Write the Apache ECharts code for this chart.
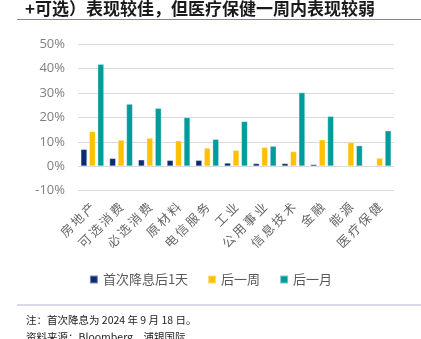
<!DOCTYPE html>
<html>
<head>
<meta charset="utf-8">
<style>
  html, body { margin: 0; padding: 0; background: #fff; }
  #chart { width: 421px; height: 339px; }
</style>
<script src="https://cdn.jsdelivr.net/npm/echarts@6/dist/echarts.min.js"></script>
</head>
<body>
<div id="chart"></div>
<script>
// Sector returns after the first rate cut (%)
const sectors = ['房地产', '可选消费', '必选消费', '原材料', '电信服务', '工业', '公用事业', '信息技术', '金融', '能源', '医疗保健'];
const day1 = [7.0, 3.3, 2.7, 2.5, 2.5, 1.4, 1.2, 1.2, 0.8, 0.3, -0.4];
const week1 = [14.3, 10.8, 11.6, 10.5, 7.5, 6.6, 7.8, 6.1, 10.9, 9.8, 3.4];
const month1 = [41.8, 25.5, 23.8, 20.0, 11.1, 18.4, 8.3, 30.2, 20.5, 8.5, 14.6];
const seriesNames = ['首次降息后1天', '后一周', '后一月'];
const yTicks = { min: -10, max: 50, interval: 10 };

const cjk = '"Noto Sans CJK SC", "Noto Sans", sans-serif';
const chart = echarts.init(document.getElementById('chart'), null, { renderer: 'canvas' });

const barStyle = (color) => ({
  type: 'bar',
  barWidth: 6.5,
  barGap: '30%',
  itemStyle: { color: color, borderColor: 'rgba(255,255,255,0.45)', borderWidth: 0.8 }
});

// Category names are drawn with a thin space between characters for looser tracking
const spaced = (s) => s.split('').join('\u2009');

chart.setOption({
  animation: false,
  textStyle: { fontFamily: cjk },
  graphic: [
    {
      type: 'text', left: 25, top: 0,
      style: { text: '+可选）表现较佳，但医疗保健一周内表现较弱', font: 'bold 17px ' + cjk, fill: '#1a1a1a' }
    },
    { type: 'line', shape: { x1: 17, y1: 19.5, x2: 421, y2: 19.5 }, style: { stroke: '#7f7fb3', lineWidth: 1 } },
    { type: 'line', shape: { x1: 17, y1: 305, x2: 421, y2: 305 }, style: { stroke: '#b4b4d8', lineWidth: 1.2 } },
    {
      type: 'text', left: 26, top: 315,
      style: { text: '注：首次降息为 2024 年 9 月 18 日。', font: '10.5px ' + cjk, fill: '#222' }
    },
    {
      type: 'text', left: 26, top: 332,
      style: { text: '资料来源：Bloomberg、浦银国际', font: '10.5px ' + cjk, fill: '#222' }
    }
  ],
  legend: {
    top: 268, left: 'center',
    itemWidth: 8, itemHeight: 8, itemGap: 19,
    icon: 'rect',
    textStyle: { fontSize: 13, color: '#595959', fontFamily: cjk },
    data: seriesNames
  },
  grid: { left: 78, right: 27, top: 44, bottom: 148.3 },
  xAxis: {
    type: 'category',
    data: sectors,
    axisLine: { show: false },
    axisTick: { show: false },
    axisLabel: {
      interval: 0, rotate: 45, margin: 14,
      fontSize: 12.5, color: '#666666', fontFamily: cjk,
      formatter: spaced
    }
  },
  yAxis: {
    type: 'value',
    min: yTicks.min, max: yTicks.max, interval: yTicks.interval,
    axisLine: { show: false },
    axisTick: { show: false },
    splitLine: { lineStyle: { color: '#d9d9d9', width: 1 } },
    axisLabel: {
      margin: 13, fontSize: 13, color: '#7f7f7f',
      fontFamily: '"Open Sans", "Noto Sans", sans-serif',
      formatter: (v) => v + '%'
    }
  },
  series: [
    Object.assign({ name: seriesNames[0], data: day1 }, barStyle('#0b2c74')),
    Object.assign({ name: seriesNames[1], data: week1 }, barStyle('#ffc000')),
    Object.assign({ name: seriesNames[2], data: month1 }, barStyle('#009b9b'))
  ]
});
</script>
</body>
</html>
